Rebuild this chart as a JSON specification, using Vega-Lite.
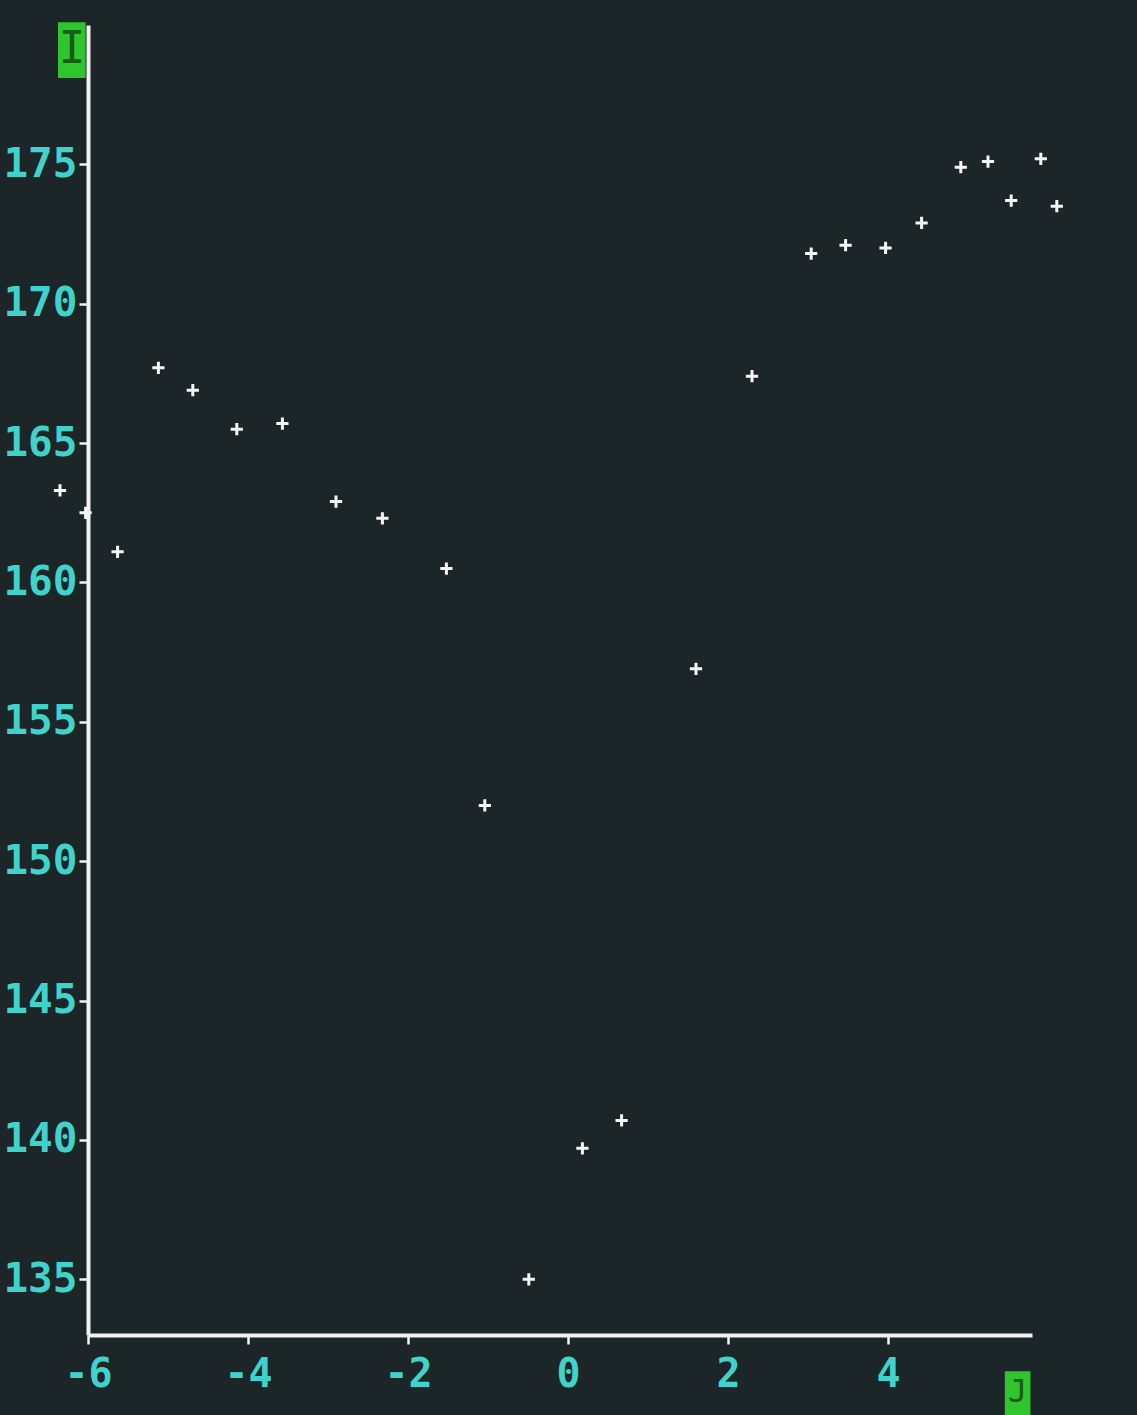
{
  "$schema": "https://vega.github.io/schema/vega-lite/v6.json",
  "width": 944,
  "height": 1310,
  "autosize": {"type": "none"},
  "padding": {"left": 88, "top": 25, "right": 105, "bottom": 80},
  "background": "#1c2527",
  "config": {"view": {"stroke": null}, "font": "DejaVu Sans Mono"},
  "layer": [
    {
      "data": {
        "values": [
          {"x": -6.35, "y": 163.3},
          {"x": -6.03, "y": 162.5},
          {"x": -5.63, "y": 161.1},
          {"x": -5.12, "y": 167.7},
          {"x": -4.69, "y": 166.9},
          {"x": -4.14, "y": 165.5},
          {"x": -3.57, "y": 165.7},
          {"x": -2.9, "y": 162.9},
          {"x": -2.32, "y": 162.3},
          {"x": -1.52, "y": 160.5},
          {"x": -1.04, "y": 152.0},
          {"x": -0.49, "y": 135.0},
          {"x": 0.18, "y": 139.7},
          {"x": 0.67, "y": 140.7},
          {"x": 1.6, "y": 156.9},
          {"x": 2.3, "y": 167.4},
          {"x": 3.04, "y": 171.8},
          {"x": 3.47, "y": 172.1},
          {"x": 3.97, "y": 172.0},
          {"x": 4.42, "y": 172.9},
          {"x": 4.91, "y": 174.9},
          {"x": 5.25, "y": 175.1},
          {"x": 5.54, "y": 173.7},
          {"x": 5.91, "y": 175.2},
          {"x": 6.11, "y": 173.5}
        ]
      },
      "mark": {
        "type": "point",
        "shape": "M-1,0L1,0M0,-1L0,1",
        "filled": false,
        "color": "#f2f6f6",
        "strokeWidth": 3,
        "size": 150,
        "opacity": 1
      },
      "encoding": {
        "x": {
          "field": "x",
          "type": "quantitative",
          "scale": {"domain": [-6, 5.8], "nice": false, "zero": false},
          "axis": {
            "title": null,
            "grid": false,
            "values": [-6, -4, -2, 0, 2, 4],
            "labelExpr": "toString(datum.value)",
            "labelFont": "DejaVu Sans Mono",
            "labelFontWeight": "bold",
            "labelFontSize": 40,
            "labelColor": "#3fd3cb",
            "labelFlush": false,
            "labelOverlap": false,
            "labelBound": false,
            "labelPadding": 10,
            "domainColor": "#f2f2f2",
            "domainWidth": 4,
            "tickColor": "#f2f2f2",
            "tickWidth": 2.5,
            "tickSize": 9
          }
        },
        "y": {
          "field": "y",
          "type": "quantitative",
          "scale": {"domain": [133, 180], "nice": false, "zero": false},
          "axis": {
            "title": null,
            "grid": false,
            "values": [135, 140, 145, 150, 155, 160, 165, 170, 175],
            "labelFont": "DejaVu Sans Mono",
            "labelFontWeight": "bold",
            "labelFontSize": 41,
            "labelColor": "#3fd3cb",
            "labelFlush": false,
            "labelOverlap": false,
            "labelBound": false,
            "labelPadding": 2,
            "domainColor": "#f2f2f2",
            "domainWidth": 4,
            "tickColor": "#f2f2f2",
            "tickWidth": 2.5,
            "tickSize": 9
          }
        }
      }
    },
    {
      "data": {"values": [{"label": "I"}]},
      "mark": {"type": "rect", "color": "#2fc52f"},
      "encoding": {
        "x": {"datum": -6.375, "type": "quantitative"},
        "x2": {"datum": -6.03},
        "y": {"datum": 180.1, "type": "quantitative"},
        "y2": {"datum": 178.1}
      }
    },
    {
      "data": {"values": [{"label": "I"}]},
      "mark": {"type": "text", "color": "#175c17", "font": "DejaVu Sans Mono", "fontSize": 44, "baseline": "middle", "align": "center"},
      "encoding": {
        "x": {"datum": -6.2, "type": "quantitative"},
        "y": {"datum": 179.1, "type": "quantitative"},
        "text": {"field": "label"}
      }
    },
    {
      "data": {"values": [{"label": "J"}]},
      "mark": {"type": "rect", "color": "#2fc52f"},
      "encoding": {
        "x": {"datum": 5.46, "type": "quantitative"},
        "x2": {"datum": 5.78},
        "y": {"datum": 131.7, "type": "quantitative"},
        "y2": {"datum": 130.0}
      }
    },
    {
      "data": {"values": [{"label": "J"}]},
      "mark": {"type": "text", "color": "#175c17", "font": "DejaVu Sans Mono", "fontSize": 32, "baseline": "middle", "align": "center"},
      "encoding": {
        "x": {"datum": 5.62, "type": "quantitative"},
        "y": {"datum": 130.95, "type": "quantitative"},
        "text": {"field": "label"}
      }
    }
  ]
}
